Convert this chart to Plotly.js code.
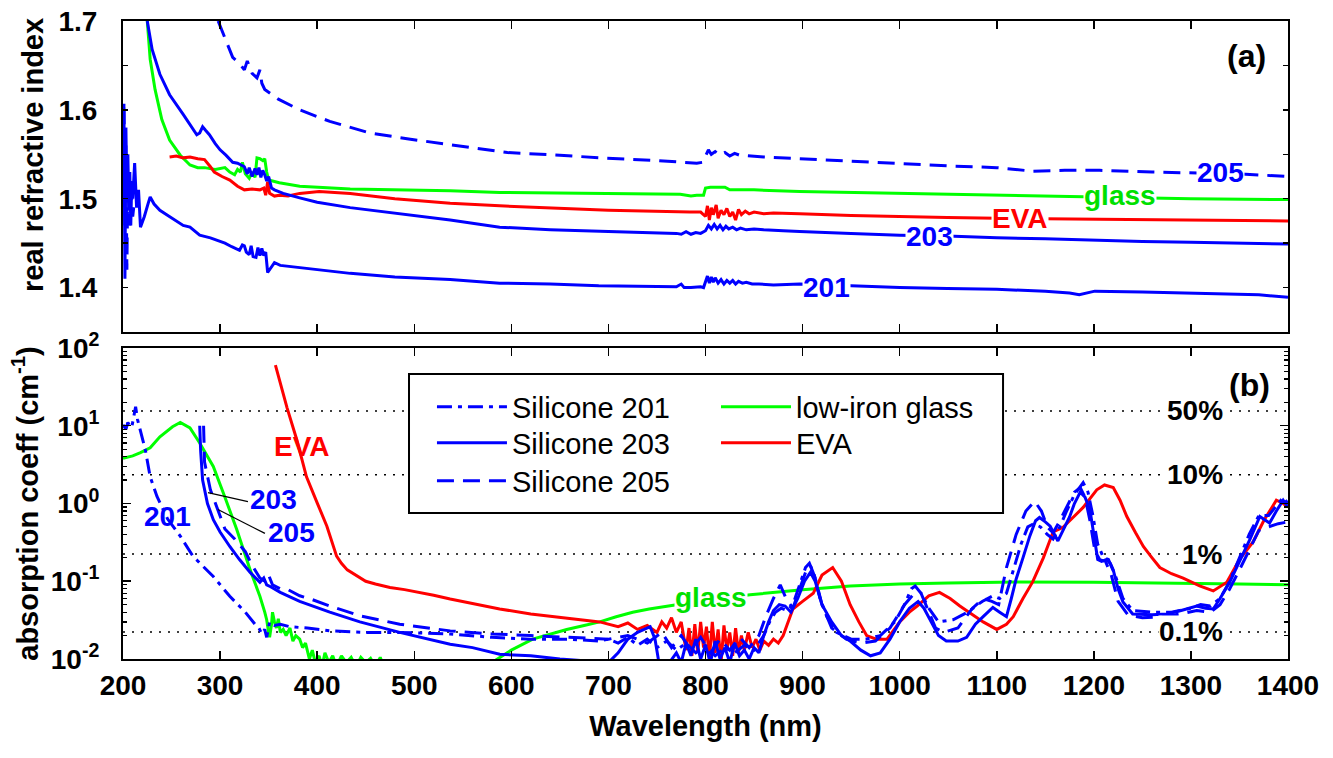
<!DOCTYPE html>
<html><head><meta charset="utf-8">
<script src="https://cdn.plot.ly/plotly-3.0.1.min.js"></script>
<style>html,body{margin:0;padding:0;background:#fff}</style>
</head><body><div id="chart" style="width:1333px;height:758px"></div>
<script>
// ---------- DATA ----------
// (a) real refractive index vs wavelength (nm)
const n201Pts = [[200,1.52],[201,1.60],[202,1.41],[203,1.58],[204,1.50],[205,1.55],[206,1.49],[207,1.53],[208,1.47],[209,1.52],[210,1.50],[212,1.54],[214,1.49],[216,1.51],[218,1.468],[222,1.480],[226,1.495],[228,1.502],[232,1.494],[238,1.487],[245,1.482],[255,1.475],[262,1.470],[269,1.468],[279,1.459],[290,1.456],[297,1.453],[305,1.450],[312,1.446],[320,1.442],[323,1.448],[325,1.447],[327,1.440],[330,1.437],[332,1.447],[334,1.435],[337,1.434],[339,1.445],[341,1.436],[343,1.444],[345,1.436],[347,1.440],[349,1.417],[352,1.422],[356,1.428],[362,1.425],[370,1.424],[382,1.423],[400,1.420],[434,1.416],[480,1.412],[537,1.409],[588,1.405],[640,1.404],[690,1.402],[740,1.401],[770,1.401],[775,1.404],[778,1.400],[785,1.400],[795,1.401],[798,1.400],[800,1.406],[802,1.413],[804,1.405],[806,1.412],[808,1.406],[810,1.411],[813,1.405],[816,1.409],[819,1.404],[822,1.408],[825,1.405],[828,1.408],[831,1.404],[834,1.407],[838,1.405],[842,1.406],[848,1.404],[855,1.404],[870,1.403],[897,1.404],[950,1.402],[1000,1.400],[1049,1.399],[1100,1.398],[1150,1.396],[1175,1.394],[1185,1.392],[1195,1.394],[1201,1.396],[1250,1.395],[1300,1.394],[1340,1.393],[1370,1.392],[1400,1.389]];
const n203Pts = [[225,1.70],[230,1.668],[238,1.640],[248,1.617],[262,1.595],[276,1.572],[279,1.574],[282,1.581],[285,1.577],[289,1.572],[295,1.562],[300,1.555],[306,1.549],[313,1.541],[318,1.540],[325,1.536],[328,1.528],[330,1.535],[333,1.525],[336,1.534],[338,1.527],[340,1.535],[342,1.524],[344,1.532],[346,1.527],[348,1.520],[350,1.525],[353,1.512],[356,1.510],[365,1.506],[382,1.501],[400,1.496],[434,1.490],[485,1.483],[537,1.476],[588,1.468],[640,1.465],[700,1.463],[740,1.462],[770,1.461],[775,1.460],[780,1.463],[785,1.460],[790,1.462],[795,1.461],[800,1.464],[803,1.470],[806,1.466],[809,1.471],[812,1.466],[815,1.470],[818,1.465],[821,1.469],[824,1.466],[828,1.468],[832,1.465],[836,1.467],[842,1.465],[850,1.466],[860,1.465],[880,1.464],[897,1.463],[950,1.461],[1000,1.459],[1049,1.458],[1100,1.456],[1150,1.455],[1206,1.453],[1250,1.452],[1300,1.451],[1350,1.450],[1400,1.449]];
const n205Pts = [[200,1.50],[201,1.61],[202,1.47],[203,1.56],[204,1.42],[205,1.53],[206,1.49],[207,1.47],[208,1.52],[210,1.48],[212,1.50],[214,null],[298,1.70],[305,1.68],[313,1.659],[320,1.652],[325,1.645],[328,1.655],[330,1.650],[333,1.641],[338,1.636],[341,1.645],[343,1.630],[346,1.623],[360,1.612],[382,1.600],[413,1.587],[454,1.574],[496,1.567],[537,1.561],[596,1.552],[650,1.549],[691,1.546],[750,1.543],[791,1.540],[797,1.541],[800,1.548],[803,1.555],[806,1.550],[810,1.553],[815,1.549],[820,1.552],[825,1.548],[830,1.551],[835,1.549],[845,1.548],[860,1.547],[897,1.545],[966,1.541],[1003,1.539],[1049,1.537],[1100,1.535],[1137,1.531],[1170,1.532],[1206,1.532],[1260,1.530],[1300,1.529],[1350,1.528],[1400,1.525]];
const nGlassPts = [[225,1.70],[228,1.657],[233,1.623],[240,1.589],[248,1.566],[259,1.549],[269,1.538],[277,1.535],[284,1.535],[295,1.533],[305,1.535],[310,1.530],[315,1.527],[318,1.533],[321,1.530],[323,1.541],[326,1.528],[330,1.523],[333,1.530],[336,1.524],[338,1.546],[341,1.545],[344,1.543],[346,1.545],[348,1.530],[350,1.521],[361,1.518],[382,1.514],[434,1.511],[537,1.509],[588,1.507],[680,1.506],[774,1.505],[785,1.503],[791,1.504],[798,1.504],[800,1.512],[805,1.513],[815,1.513],[820,1.513],[825,1.510],[850,1.510],[897,1.508],[1000,1.506],[1049,1.505],[1100,1.504],[1206,1.502],[1300,1.500],[1400,1.499]];
const nEvaPts = [[248,1.547],[255,1.548],[262,1.546],[269,1.547],[277,1.545],[284,1.544],[290,1.536],[294,1.530],[302,1.525],[310,1.521],[318,1.514],[325,1.510],[333,1.511],[341,1.510],[345,1.512],[347,1.504],[349,1.519],[351,1.506],[356,1.503],[361,1.504],[370,1.503],[382,1.506],[402,1.508],[434,1.506],[480,1.500],[537,1.495],[588,1.492],[650,1.489],[700,1.487],[784,1.485],[795,1.485],[800,1.480],[802,1.492],[804,1.476],[806,1.490],[808,1.482],[811,1.493],[813,1.478],[816,1.487],[819,1.482],[822,1.489],[825,1.480],[828,1.485],[831,1.476],[834,1.488],[837,1.482],[841,1.486],[845,1.483],[850,1.485],[860,1.483],[870,1.484],[897,1.483],[950,1.481],[1049,1.479],[1100,1.478],[1206,1.477],[1300,1.476],[1400,1.475]];

// (b) absorption coefficient (cm^-1) vs wavelength (nm)
const a201Pts = [[200,10.3],[203,9.0],[205,11],[207,10],[209,9.5],[211,13],[213,17.5],[215,12],[218,8.4],[223,4.9],[228,2.2],[235,1.23],[246,0.63],[259,0.38],[272,0.21],[293,0.115],[310,0.064],[326,0.040],[336,0.028],[340,0.025],[343,0.021],[346,0.024],[348,0.019],[351,0.030],[356,0.027],[362,0.028],[372,0.026],[390,0.025],[413,0.023],[450,0.022],[485,0.022],[537,0.021],[580,0.019],[620,0.018],[660,0.018],[690,0.017],[700,0.018],[710,0.016],[720,0.019],[730,0.015],[740,0.018],[750,0.014],[760,0.017],[770,0.013],[780,0.016],[790,0.012],[800,0.015],[810,0.011],[820,0.014],[830,0.012],[840,0.015],[850,0.013],[860,0.02],[866,0.03],[872,0.04],[878,0.045],[884,0.042],[890,0.05],[897,0.09],[903,0.15],[907,0.17],[912,0.12],[918,0.06],[925,0.035],[935,0.022],[950,0.018],[965,0.018],[980,0.02],[995,0.03],[1005,0.05],[1012,0.08],[1016,0.087],[1022,0.07],[1030,0.045],[1040,0.03],[1055,0.032],[1070,0.04],[1085,0.055],[1096,0.065],[1103,0.06],[1110,0.07],[1118,0.15],[1125,0.3],[1132,0.5],[1138,0.55],[1145,0.5],[1152,0.4],[1158,0.35],[1165,0.5],[1172,0.8],[1180,1.3],[1189,1.86],[1194,1.4],[1199,0.7],[1204,0.3],[1210,0.2],[1215,0.19],[1222,0.12],[1230,0.06],[1240,0.042],[1260,0.04],[1280,0.04],[1300,0.045],[1310,0.05],[1320,0.048],[1330,0.06],[1340,0.1],[1350,0.2],[1360,0.4],[1370,0.7],[1380,0.7],[1390,1.0],[1395,1.2],[1400,1.0]];
const a203Pts = [[279,10],[280,4.7],[282,2.0],[287,1.0],[293,0.62],[300,0.43],[310,0.28],[320,0.19],[331,0.13],[341,0.097],[345,0.11],[348,0.09],[352,0.085],[362,0.072],[382,0.055],[413,0.040],[444,0.030],[485,0.022],[537,0.0155],[560,0.014],[588,0.0115],[620,0.011],[650,0.010],[680,0.0095],[700,0.009],[710,0.012],[720,0.018],[730,0.022],[743,0.026],[748,0.018],[752,0.009],[760,0.008],[770,0.012],[775,0.009],[780,0.016],[785,0.011],[790,0.018],[795,0.010],[800,0.015],[805,0.009],[810,0.017],[815,0.010],[820,0.014],[825,0.009],[830,0.016],[835,0.011],[840,0.013],[845,0.010],[850,0.014],[855,0.012],[860,0.02],[865,0.03],[870,0.042],[876,0.05],[882,0.048],[888,0.04],[895,0.06],[902,0.10],[908,0.13],[913,0.10],[920,0.05],[930,0.03],[940,0.02],[949,0.017],[960,0.013],[970,0.011],[980,0.012],[990,0.018],[1000,0.030],[1010,0.045],[1019,0.055],[1025,0.045],[1031,0.032],[1040,0.020],[1048,0.017],[1060,0.017],[1069,0.019],[1078,0.028],[1086,0.035],[1096,0.046],[1103,0.040],[1110,0.035],[1115,0.06],[1120,0.107],[1127,0.2],[1134,0.38],[1140,0.6],[1144,0.66],[1150,0.58],[1155,0.51],[1163,0.33],[1170,0.5],[1175,0.67],[1180,1.0],[1186,1.4],[1191,1.2],[1196,0.83],[1200,0.4],[1204,0.19],[1208,0.18],[1213,0.19],[1217,0.17],[1220,0.14],[1225,0.08],[1230,0.054],[1240,0.038],[1260,0.037],[1275,0.038],[1290,0.042],[1306,0.048],[1315,0.045],[1323,0.044],[1330,0.06],[1340,0.098],[1350,0.18],[1361,0.35],[1371,0.68],[1381,0.56],[1388,0.8],[1395,1.1],[1400,0.9]];
const a205Pts = [[283,10],[284,3.4],[290,1.5],[298,0.83],[305,0.47],[315,0.35],[326,0.24],[333,0.16],[341,0.11],[346,0.10],[350,0.12],[354,0.09],[362,0.080],[370,0.078],[382,0.065],[395,0.058],[413,0.048],[444,0.036],[485,0.028],[537,0.023],[580,0.021],[620,0.020],[660,0.019],[700,0.018],[720,0.02],[740,0.016],[755,0.022],[765,0.014],[775,0.02],[785,0.013],[795,0.019],[805,0.012],[815,0.018],[825,0.013],[835,0.019],[845,0.014],[855,0.02],[862,0.035],[870,0.06],[877,0.09],[883,0.06],[890,0.045],[897,0.08],[903,0.13],[908,0.16],[913,0.11],[920,0.05],[930,0.025],[945,0.018],[960,0.016],[975,0.017],[990,0.025],[1005,0.05],[1015,0.07],[1022,0.07],[1030,0.04],[1037,0.025],[1045,0.022],[1060,0.025],[1075,0.045],[1086,0.06],[1095,0.055],[1102,0.05],[1110,0.15],[1120,0.4],[1130,0.8],[1139,1.07],[1146,0.8],[1152,0.5],[1158,0.42],[1165,0.6],[1172,0.9],[1180,1.4],[1186,1.6],[1191,1.2],[1196,0.6],[1201,0.25],[1206,0.19],[1212,0.18],[1218,0.12],[1225,0.055],[1235,0.037],[1250,0.034],[1270,0.035],[1290,0.038],[1306,0.042],[1320,0.04],[1330,0.05],[1340,0.08],[1350,0.14],[1360,0.25],[1370,0.45],[1380,0.5],[1390,0.55],[1400,0.58]];
const aGlassPts = [[200,3.8],[210,4.1],[218,4.5],[228,5.2],[238,7.2],[251,9.7],[259,11],[269,9.4],[279,6.0],[293,3.0],[305,1.2],[317,0.47],[331,0.14],[341,0.064],[346,0.04],[348,0.032],[350,0.022],[351,0.019],[353,0.028],[354,0.04],[356,0.03],[358,0.025],[360,0.033],[362,0.022],[365,0.024],[368,0.02],[372,0.025],[375,0.017],[378,0.02],[382,0.018],[385,0.014],[388,0.016],[392,0.010],[395,0.013],[398,0.009],[402,0.011],[405,0.008],[408,0.012],[412,0.009],[416,0.011],[420,0.008],[425,0.011],[430,0.009],[435,0.0105],[440,0.008],[445,0.0105],[450,0.009],[455,0.0102],[460,0.008],[465,0.0105],[470,0.007],[480,0.006],[500,0.005],[550,0.006],[580,0.009],[588,0.0105],[600,0.013],[622,0.018],[640,0.021],[657,0.024],[675,0.027],[691,0.030],[708,0.035],[725,0.040],[742,0.044],[760,0.048],[800,0.057],[846,0.067],[900,0.078],[949,0.087],[1000,0.092],[1050,0.095],[1120,0.098],[1200,0.097],[1292,0.095],[1350,0.092],[1400,0.09]];
const aEvaPts = [[357,60],[369,17],[379,6.6],[389,2.2],[400,1.02],[410,0.51],[420,0.21],[425,0.17],[431,0.14],[437,0.125],[444,0.11],[450,0.10],[460,0.092],[475,0.083],[490,0.078],[506,0.072],[520,0.066],[537,0.059],[560,0.052],[588,0.044],[620,0.038],[650,0.034],[680,0.031],[691,0.030],[700,0.028],[710,0.026],[720,0.029],[730,0.024],[740,0.027],[750,0.022],[755,0.03],[760,0.025],[765,0.034],[770,0.022],[775,0.03],[780,0.013],[783,0.025],[786,0.011],[789,0.028],[792,0.012],[795,0.03],[798,0.014],[801,0.026],[804,0.01],[807,0.03],[810,0.012],[813,0.024],[816,0.009],[819,0.027],[822,0.013],[825,0.022],[828,0.011],[831,0.025],[834,0.012],[837,0.02],[840,0.013],[844,0.022],[848,0.014],[852,0.018],[856,0.013],[860,0.017],[865,0.015],[870,0.018],[875,0.016],[880,0.02],[885,0.03],[890,0.044],[900,0.055],[911,0.07],[920,0.12],[931,0.15],[940,0.1],[949,0.05],[958,0.03],[966,0.02],[976,0.018],[987,0.018],[1000,0.030],[1010,0.04],[1018,0.048],[1030,0.065],[1041,0.072],[1052,0.06],[1062,0.048],[1075,0.037],[1086,0.030],[1100,0.024],[1110,0.028],[1117,0.035],[1127,0.06],[1137,0.098],[1148,0.2],[1158,0.43],[1168,0.49],[1178,0.65],[1189,0.89],[1197,1.2],[1203,1.5],[1211,1.73],[1220,1.6],[1227,1.1],[1234,0.68],[1243,0.42],[1251,0.28],[1260,0.2],[1268,0.15],[1280,0.125],[1292,0.11],[1309,0.087],[1323,0.075],[1337,0.097],[1350,0.19],[1364,0.32],[1375,0.6],[1388,1.1],[1395,1.0],[1400,0.9]];

// reference absorption levels (dotted lines) and their labels
const refLevels = [15.5, 2.35, 0.224, 0.0223];
const refLabels = ['50%', '10%', '1%', '0.1%'];
const wlRange = [200, 1400];

// axis ticks
const nTicks = [1.4, 1.5, 1.6, 1.7];
const aTicks = [0.01, 0.1, 1, 10, 100];
const aTickText = ['10<sup>-2</sup>', '10<sup>-1</sup>', '10<sup>0</sup>', '10<sup>1</sup>', '10<sup>2</sup>'];
const aMinor = [0.02,0.03,0.04,0.05,0.06,0.07,0.08,0.09,0.2,0.3,0.4,0.5,0.6,0.7,0.8,0.9,2,3,4,5,6,7,8,9,20,30,40,50,60,70,80,90];

// ---------- STYLE ----------
const BLUE = '#0000ff', GREEN = '#00ff00', GREENTXT = '#00e000', RED = '#ff0000';
const FONT = 'Liberation Sans, Arial, sans-serif';
const LW = 3;
const DASH = '17px,9px';
const DASHDOT = '15px,6px,4px,6px';
const xs = p => p.map(d => d[0]);
const ys = p => p.map(d => d[1]);

const traces = [];
// dotted reference lines (bottom panel)
refLevels.forEach(v => traces.push({x: wlRange, y: [v, v], xaxis: 'x2', yaxis: 'y2', mode: 'lines',
  line: {color: '#000', width: 1.5, dash: '2px,7px'}, showlegend: false, hoverinfo: 'skip'}));

// top panel
traces.push({x: xs(n205Pts), y: ys(n205Pts), xaxis: 'x', yaxis: 'y', mode: 'lines', line: {color: BLUE, width: LW, dash: DASH}, showlegend: false, connectgaps: false});
traces.push({x: xs(nGlassPts), y: ys(nGlassPts), xaxis: 'x', yaxis: 'y', mode: 'lines', line: {color: GREEN, width: LW}, showlegend: false});
traces.push({x: xs(nEvaPts), y: ys(nEvaPts), xaxis: 'x', yaxis: 'y', mode: 'lines', line: {color: RED, width: LW}, showlegend: false});
traces.push({x: xs(n203Pts), y: ys(n203Pts), xaxis: 'x', yaxis: 'y', mode: 'lines', line: {color: BLUE, width: LW}, showlegend: false});
traces.push({x: xs(n201Pts), y: ys(n201Pts), xaxis: 'x', yaxis: 'y', mode: 'lines', line: {color: BLUE, width: LW}, showlegend: false});

// bottom panel (each legend entry in its own positioned legend)
traces.push({x: xs(aGlassPts), y: ys(aGlassPts), xaxis: 'x2', yaxis: 'y2', mode: 'lines', name: 'low-iron glass', legend: 'legend4', line: {color: GREEN, width: LW}});
traces.push({x: xs(aEvaPts), y: ys(aEvaPts), xaxis: 'x2', yaxis: 'y2', mode: 'lines', name: 'EVA', legend: 'legend5', line: {color: RED, width: LW}});
traces.push({x: xs(a201Pts), y: ys(a201Pts), xaxis: 'x2', yaxis: 'y2', mode: 'lines', name: 'Silicone 201', legend: 'legend', line: {color: BLUE, width: LW, dash: DASHDOT}});
traces.push({x: xs(a203Pts), y: ys(a203Pts), xaxis: 'x2', yaxis: 'y2', mode: 'lines', name: 'Silicone 203', legend: 'legend2', line: {color: BLUE, width: LW}});
traces.push({x: xs(a205Pts), y: ys(a205Pts), xaxis: 'x2', yaxis: 'y2', mode: 'lines', name: 'Silicone 205', legend: 'legend3', line: {color: BLUE, width: LW, dash: DASH}});

const tickFont = {family: FONT, size: 28, color: '#000', weight: 'bold'};
const axBase = {showline: true, linecolor: '#000', linewidth: 2, mirror: 'ticks', ticks: 'inside',
  tickcolor: '#000', tickwidth: 1.5, showgrid: false, zeroline: false, tickfont: tickFont};

const lab = (text, x, y, color, xref, yref, extra) => Object.assign({text, x, y, xref, yref, showarrow: false,
  font: {family: FONT, size: 28, color, weight: 'bold'}, bgcolor: '#fff', borderpad: 0}, extra || {});
const bigFont = {family: FONT, size: 32, color: '#000', weight: 'bold'};
const titleFont = {family: FONT, size: 29, color: '#000', weight: 'bold'};
const clear = 'rgba(0,0,0,0)';

const annotations = [
  lab('real refractive index', -0.0773, 0.790, '#000', 'paper', 'paper', {bgcolor: clear, textangle: -90, font: titleFont, xanchor: 'center', yanchor: 'middle'}),
  lab('205', 1330, 1.530, BLUE, 'x', 'y'),
  lab('glass', 1227, 1.504, GREENTXT, 'x', 'y'),
  lab('EVA', 1124, 1.478, RED, 'x', 'y'),
  lab('203', 1031, 1.457, BLUE, 'x', 'y'),
  lab('201', 925, 1.4003, BLUE, 'x', 'y'),
  lab('(a)', 1357, 1.661, '#000', 'x', 'y', {bgcolor: clear, font: bigFont}),
  lab('(b)', 1360, 1.526, '#000', 'x2', 'y2', {bgcolor: clear, font: bigFont}),
  lab('EVA', 384, 0.731, RED, 'x2', 'y2', {bgcolor: clear}),
  lab('201', 245.8, -0.167, BLUE, 'x2', 'y2', {bgcolor: clear}),
  lab('203', 355.5, 0.051, BLUE, 'x2', 'y2', {bgcolor: clear}),
  lab('205', 374, -0.372, BLUE, 'x2', 'y2', {bgcolor: clear}),
  lab('glass', 805.6, -1.205, GREENTXT, 'x2', 'y2')
];
refLevels.forEach((v, i) => annotations.push(lab(refLabels[i], 1334, Math.log10(v), '#000', 'x2', 'y2', {xanchor: 'right'})));

const shapes = [
  {type: 'line', xref: 'x2', yref: 'y2', x0: 287.5, y0: 1.38, x1: 328.7, y1: 1.06, line: {color: '#000', width: 1.3}},
  {type: 'line', xref: 'x2', yref: 'y2', x0: 297.8, y0: 0.837, x1: 346.2, y1: 0.412, line: {color: '#000', width: 1.3}},
  {type: 'rect', xref: 'paper', yref: 'paper', x0: 0.2455, x1: 0.7554, y0: 0.2288, y1: 0.4467, layer: 'above',
   fillcolor: '#fff', line: {color: '#000', width: 2}}
];

const legFont = {family: FONT, size: 29, color: '#000'};
const leg = (x, y) => ({x, y, xanchor: 'left', yanchor: 'middle', bgcolor: clear, borderwidth: 0, font: legFont, itemwidth: 70});
const layout = {
  width: 1333, height: 758,
  margin: {l: 123, r: 45, t: 21, b: 99},
  paper_bgcolor: '#fff', plot_bgcolor: '#fff',
  showlegend: true,
  legend: leg(0.2652, 0.395),
  legend2: leg(0.2652, 0.3386),
  legend3: leg(0.2652, 0.279),
  legend4: leg(0.509, 0.395),
  legend5: leg(0.509, 0.3386),
  xaxis: Object.assign({}, axBase, {anchor: 'y', range: wlRange, dtick: 100, tick0: 200, ticklen: 8, showticklabels: false}),
  yaxis: Object.assign({}, axBase, {domain: [0.5125, 1], range: [1.35, 1.7], tickvals: nTicks, ticktext: nTicks.map(v => v.toFixed(1)),
    ticklen: 5, ticklabelstandoff: 18, minor: {dtick: 0.05, tick0: 1.35, ticks: 'inside', ticklen: 5, tickcolor: '#000', tickwidth: 1.5}}),
  xaxis2: Object.assign({}, axBase, {anchor: 'y2', range: wlRange, dtick: 100, tick0: 200, ticklen: 8,
    title: {text: 'Wavelength (nm)', font: titleFont, standoff: 16}}),
  yaxis2: Object.assign({}, axBase, {domain: [0, 0.4875], type: 'log', range: [-2, 2], tickvals: aTicks, ticktext: aTickText,
    ticklen: 8, ticklabelstandoff: 16, minor: {tickmode: 'array', tickvals: aMinor, ticks: 'inside', ticklen: 4, tickcolor: '#000', tickwidth: 1.2},
    title: {text: 'absorption coeff (cm<sup>-1</sup>)', font: titleFont, standoff: 4}}),
  annotations, shapes
};
Plotly.newPlot('chart', traces, layout, {displayModeBar: false, staticPlot: true});
</script></body></html>
